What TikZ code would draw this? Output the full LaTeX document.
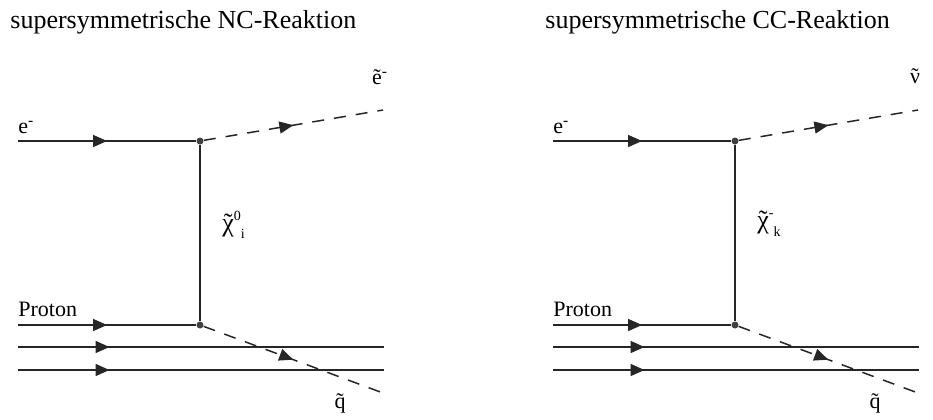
\documentclass[tikz,border=0pt]{standalone}
\usepackage{fontspec}
\setmainfont{Liberation Serif}
\usetikzlibrary{positioning,arrows.meta,decorations.markings}

\newcommand\tld[1]{{\ooalign{#1\cr\hidewidth\char"02DC\hidewidth\cr}}}
\newcommand\chisym[2]{{\fontsize{13}{15}\selectfont\tld{χ}}%
  \raisebox{1.1ex}{\scriptsize #1}\raisebox{-0.7ex}{\scriptsize #2}}

\tikzset{
  midarrow/.style={postaction={decorate}, decoration={markings,
    mark=at position #1 with {\arrow{Triangle[length=7pt,width=6pt]}}}},
  fermion/.style={line width=0.75pt, draw=black!85, midarrow=#1},
  fermion/.default=0.5,
  sfermion/.style={line width=0.75pt, draw=black!85, dash pattern=on 6pt off 5pt, midarrow=#1},
  sfermion/.default=0.5,
  propagator/.style={line width=0.75pt, draw=black!85},
  vertex/.style={circle, fill=black!75, inner sep=0pt, minimum size=3.5pt},
  lbl/.style={font=\fontsize{11}{13}\selectfont, inner sep=0pt},
  titlelbl/.style={font=\fontsize{13}{15}\selectfont, inner sep=0pt, anchor=base west},
}

\begin{document}
\begin{tikzpicture}[x=0.5pt,y=-0.5pt]
  \useasboundingbox (0,0) rectangle (933,419);
  \foreach \dx/\pre/\kind/\outl/\chil in {0/L/NC/{\tld{e}\textsuperscript{-}}/{\chisym{0}{i}},
                                          535/R/CC/{\tld{ν}}/{\chisym{-}{k}}}{
    \node[titlelbl] (\pre-title) at (\dx+10,28) {supersymmetrische \kind-Reaktion};
    % vertices and open ends
    \node[vertex] (\pre-v1) at (\dx+200,141) {};
    \node[vertex] (\pre-v2) at (\dx+200,325) {};
    \coordinate (\pre-in1) at (\dx+18,141);
    \coordinate (\pre-in2) at (\dx+18,325);
    \coordinate (\pre-out1) at (\dx+383,110);
    \coordinate (\pre-out2) at (\dx+383,393);
    \coordinate (\pre-qa) at (\dx+18,347);
    \coordinate (\pre-qa') at (\dx+384,347);
    \coordinate (\pre-qb) at (\dx+18,370);
    \coordinate (\pre-qb') at (\dx+384,370);
    % lines
    \draw[fermion] (\pre-in1) -- (\pre-v1);
    \draw[sfermion] (\pre-v1) -- (\pre-out1);
    \draw[propagator] (\pre-v1) -- (\pre-v2);
    \draw[fermion] (\pre-in2) -- (\pre-v2);
    \draw[sfermion] (\pre-v2) -- (\pre-out2);
    \draw[fermion=0.25] (\pre-qa) -- (\pre-qa');
    \draw[fermion=0.25] (\pre-qb) -- (\pre-qb');
    % labels
    \node[lbl, anchor=base west] (\pre-elbl) at (\dx+18,133) {e\textsuperscript{-}};
    \node[lbl] (\pre-outlbl) at (\dx+380,78) {\outl};
    \node[lbl, anchor=west] (\pre-chilbl) at (\dx+222,225) {\chil};
    \node[lbl, anchor=base west] (\pre-plbl) at (\dx+18,316) {Proton};
    \node[lbl] (\pre-qlbl) at (\dx+340,403) {\tld{q}};
  }
\end{tikzpicture}
\end{document}
